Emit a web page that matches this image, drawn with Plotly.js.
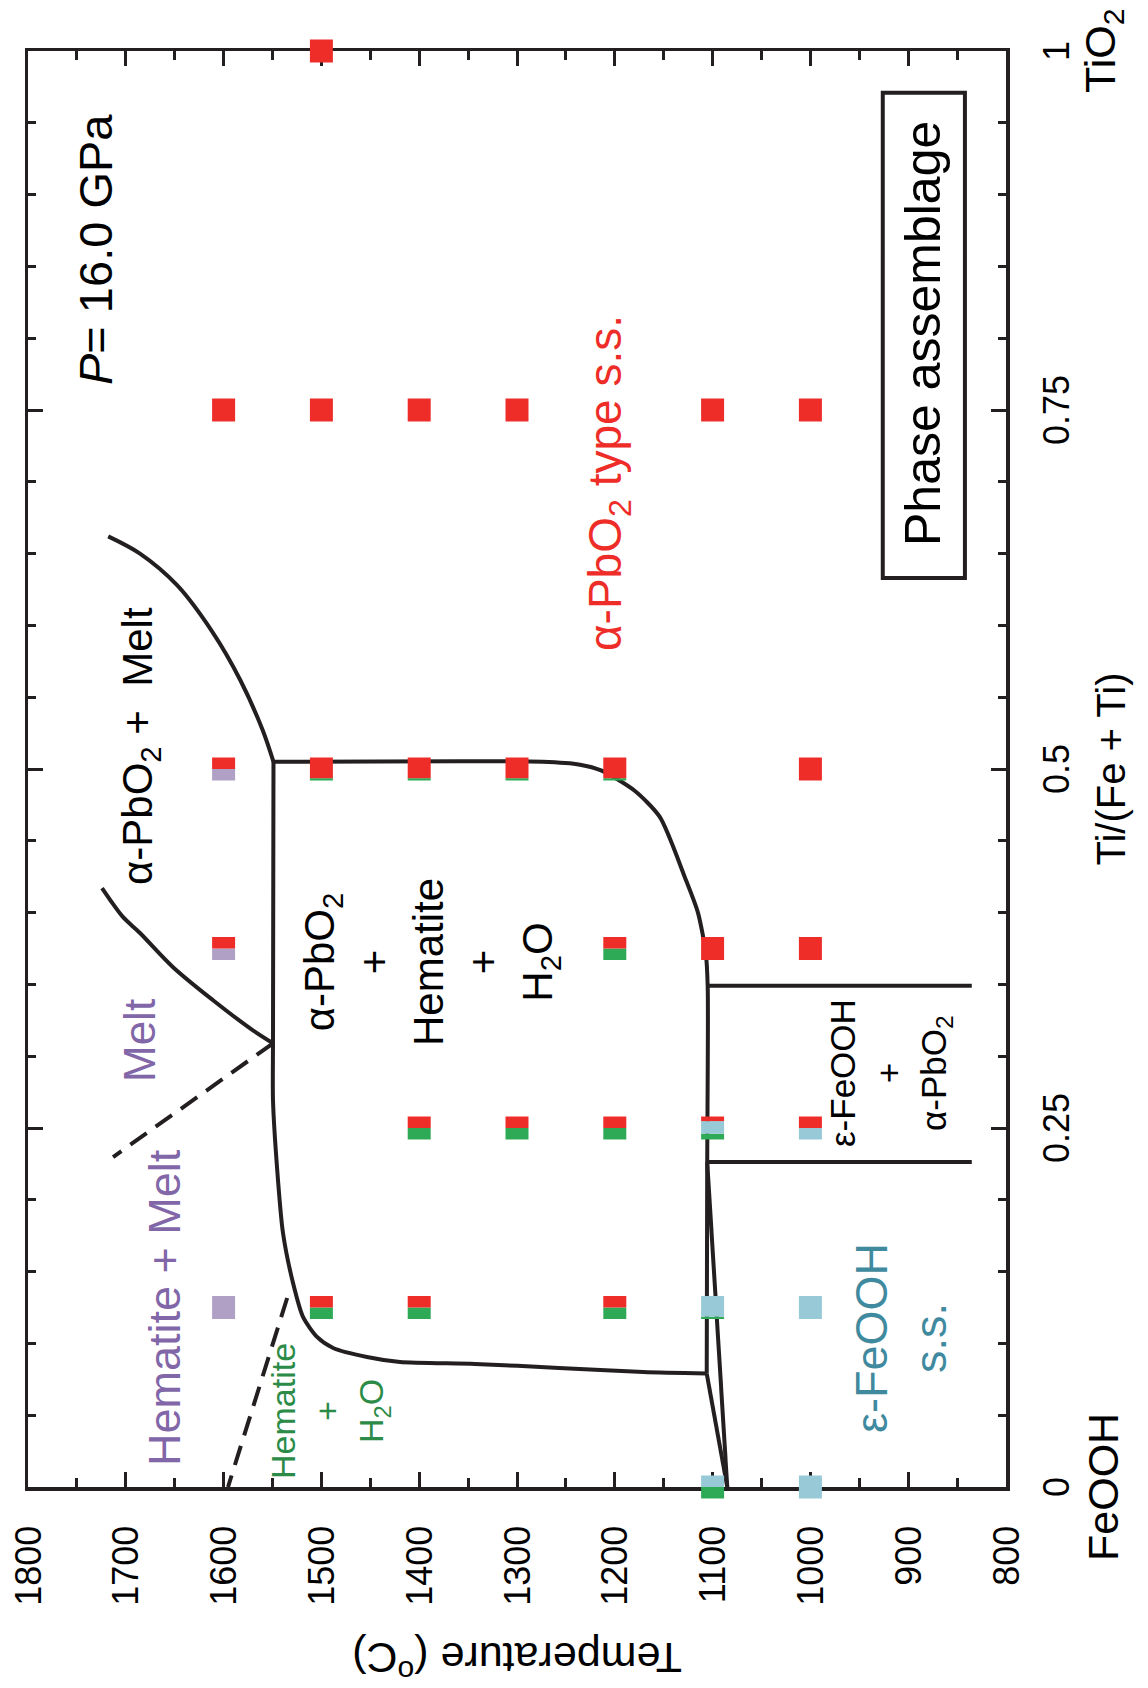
<!DOCTYPE html>
<html><head><meta charset="utf-8">
<script src="https://cdn.plot.ly/plotly-3.0.1.min.js"></script>
<style>
html,body{margin:0;padding:0;width:1148px;height:1688px;overflow:hidden;background:#fff;}
#wrap{position:absolute;left:0;top:0;width:1688px;height:1148px;transform-origin:0 0;transform:translateY(1688px) rotate(-90deg);}
#chart{width:1688px;height:1148px;}
</style></head><body>
<div id="wrap"><div id="chart"></div></div>
<script>
// ---- experimental runs (Ti/(Fe+Ti), temperature) and phase fractions of each symbol ----
const sampleTi   = [1, 0.75,0.75,0.75,0.75,0.75,0.75, 0.5,0.5,0.5,0.5,0.5,0.5, 0.375,0.375,0.375,0.375, 0.25,0.25,0.25,0.25,0.25, 0.125,0.125,0.125,0.125,0.125,0.125, 0,0];
const sampleTemp = [1500, 1600,1500,1400,1300,1100,1000, 1600,1500,1400,1300,1200,1000, 1600,1200,1100,1000, 1400,1300,1200,1100,1000, 1600,1500,1400,1200,1100,1000, 1100,1000];
const fracMelt      = [0, 0,0,0,0,0,0, 0.5,0,0,0,0,0, 0.5,0,0,0, 0,0,0,0,0, 1,0,0,0,0,0, 0,0];
const fracHemH2O    = [0, 0,0,0,0,0,0, 0,0.1,0.1,0.1,0.1,0, 0,0.5,0,0, 0.5,0.5,0.5,0.25,0, 0,0.5,0.5,0.5,0.1,0, 0.5,0];
const fracEpsFeOOH  = [0, 0,0,0,0,0,0, 0,0,0,0,0,0, 0,0,0,0, 0,0,0,0.55,0.5, 0,0,0,0,0.9,1, 0.5,1];
const fracAlphaPbO2 = [1, 1,1,1,1,1,1, 0.5,0.9,0.9,0.9,0.9,1, 0.5,0.5,1,1, 0.5,0.5,0.5,0.2,0.5, 0,0.5,0.5,0.5,0,0, 0,0];

// ---- phase boundaries ----
const liquidusAlphaTi = [0.662,0.650,0.628,0.595,0.562,0.527,0.505];
const liquidusAlphaT  = [1718,1685.5,1647.6,1611,1583,1560,1549];
const meltCurveTi = [0.417,0.4088,0.397,0.3858,0.362,0.339,0.318,0.309];
const meltCurveT  = [1724.3,1716,1703,1685.5,1651.7,1610.8,1570,1549.5];
const solidusBaseTi = [0,0.079];
const solidusBaseT  = [1085,1106];
const solidusLeftTi = [0.079,0.080,0.0829,0.0857,0.087,0.0905,0.0968,0.1045,0.1184,0.142,0.177,0.2228,0.2695,0.309,0.505];
const solidusLeftT  = [1106,1171,1257,1343,1419.6,1453.4,1488,1504.5,1518.8,1529,1539.3,1545.4,1549.5,1549.5,1549];
const solidusTopTi = [0.505,0.505,0.503,0.499,0.485,0.4666,0.4248,0.4,0.372,0.348,0.2263,0.079];
const solidusTopT  = [1549,1274,1235.6,1214,1180,1154,1128.5,1115,1107,1105,1105.5,1106];
const epsLowerTi = [0.2263,0];
const epsLowerT  = [1105.5,1085];
const epsAlphaUpperTi = [0.349,0.349];
const epsAlphaUpperT  = [1105,835];
const epsAlphaLowerTi = [0.2263,0.2263];
const epsAlphaLowerT  = [1105.5,835];
const dashMeltTi = [0.309,0.2298];
const dashMeltT  = [1549.5,1713];
const dashHemTi = [0.1316,0];
const dashHemT  = [1535,1595.5];

// ---- axes ----
const tiRange = [0,1];
const tempRange = [800,1800];
const tiTickVals = [0,0.25,0.5,0.75,1];
const tiTickText = ['0','0.25','0.5','0.75','1'];
const tempTickVals = [800,900,1000,1100,1200,1300,1400,1500,1600,1700,1800];

const FONT = 'Liberation Sans, Arial, Helvetica, sans-serif';
const INK = '#231f20';
const COL = {melt:'#b0a0c6', hem:'#2eaa56', eps:'#97c9d6', alpha:'#ee2d29'};
const TXT = {melt:'#8267a8', hem:'#2b8b47', eps:'#3f8a9e', alpha:'#ee2d29'};
const SQ = 23;

const phases = [
  {name:'Melt', frac:fracMelt, color:COL.melt},
  {name:'Hematite + H2O', frac:fracHemH2O, color:COL.hem},
  {name:'ε-FeOOH', frac:fracEpsFeOOH, color:COL.eps},
  {name:'α-PbO2', frac:fracAlphaPbO2, color:COL.alpha}
];

const traces = [];
function bline(xs, ys, dash, smooth){
  traces.push({type:'scatter', mode:'lines', x:xs, y:ys, hoverinfo:'skip', showlegend:false,
    line:{color:INK, width:4, dash: dash||'solid', shape: smooth ? 'spline' : 'linear', smoothing: smooth||0}});
}
bline(liquidusAlphaTi, liquidusAlphaT, null, 0.9);
bline(meltCurveTi, meltCurveT, null, 0.9);
bline(solidusBaseTi, solidusBaseT);
bline(solidusLeftTi, solidusLeftT, null, 0.7);
bline(solidusTopTi, solidusTopT, null, 0.7);
bline(epsLowerTi, epsLowerT);
bline(epsAlphaUpperTi, epsAlphaUpperT);
bline(epsAlphaLowerTi, epsAlphaLowerT);
bline(dashMeltTi, dashMeltT, '20px,11px');
bline(dashHemTi, dashHemT, '20px,11px');

// single-phase runs as square markers
phases.forEach(p=>{
  const xs=[], ys=[];
  for(let i=0;i<sampleTi.length;i++){ if(p.frac[i]===1){ xs.push(sampleTi[i]); ys.push(sampleTemp[i]); } }
  traces.push({type:'scatter', mode:'markers', x:xs, y:ys, name:p.name, showlegend:false, cliponaxis:false,
    marker:{symbol:'square', size:SQ, color:p.color, line:{width:0}}});
});

// multi-phase runs as split squares (anchored on the axes, sized in pixels)
const shapes = [];
for(let i=0;i<sampleTi.length;i++){
  if(phases.some(p=>p.frac[i]===1)) continue;
  let cum = 0;
  const xd = (sampleTi[i]-tiRange[0])/(tiRange[1]-tiRange[0]);
  phases.forEach(p=>{
    const f = p.frac[i];
    if(f<=0) return;
    shapes.push({type:'rect', layer:'above', xref:'x domain', yref:'y', xsizemode:'pixel', ysizemode:'pixel',
      xanchor:xd, yanchor:sampleTemp[i], x0:-SQ/2+SQ*cum, x1:-SQ/2+SQ*(cum+f), y0:-SQ/2, y1:SQ/2,
      fillcolor:p.color, line:{width:0}});
    cum += f;
  });
}
// "Phase assemblage" frame
shapes.push({type:'rect', xref:'x', yref:'y', x0:0.633, x1:0.971, y0:842, y1:926, line:{color:INK, width:4}, fillcolor:'rgba(0,0,0,0)'});

function ann(x,y,text,size,color,extra){
  return Object.assign({x:x, y:y, xref:'x', yref:'y', text:text, showarrow:false,
    font:{family:FONT, size:size, color:color||'#000'}, xanchor:'center', yanchor:'middle', align:'center'}, extra||{});
}
const annotations = [
  ann(0.862,1730.5,'<i>P</i>= 16.0 GPa',47),
  ann(0.803,884.4,'Phase assemblage',50),
  ann(0.5157,1685,'α-PbO<sub>2</sub> +\u00a0 Melt',42),
  ann(0.311,1686.5,'Melt',44,TXT.melt),
  ann(0.125,1660,'Hematite + Melt',45,TXT.melt),
  ann(0.0529,1491,'Hematite<br>+<br>H<sub>2</sub>O',34,TXT.hem),
  ann(0.3656,1387,'α-PbO<sub>2</sub><br>+<br>Hematite<br>+<br>H<sub>2</sub>O',42),
  ann(0.2883,918.6,'ε-FeOOH<br>+<br>α-PbO<sub>2</sub>',35),
  ann(0.1038,907,'ε-FeOOH<br>s.s.',45,TXT.eps),
  ann(0.6995,1206,'α-PbO<sub>2</sub> type s.s.',46,TXT.alpha),
  ann(0,0,'FeOOH',43,'#000',{yref:'paper', yshift:-97}),
  ann(1,0,'TiO<sub>2</sub>',43,'#000',{yref:'paper', yshift:-97})
];

const axCommon = {showline:true, linecolor:INK, linewidth:3.5, mirror:'allticks', ticks:'inside',
  tickcolor:INK, tickwidth:3, ticklen:15, showgrid:false, zeroline:false, automargin:false,
  layer:'below traces', tickfont:{family:FONT, size:36, color:'#000'}};

const layout = {
  width:1688, height:1148,
  margin:{l:201, r:51, t:28, b:142},
  paper_bgcolor:'#fff', plot_bgcolor:'#fff',
  font:{family:FONT, color:'#000'},
  showlegend:false,
  xaxis:Object.assign({}, axCommon, {range:tiRange, tickvals:tiTickVals, ticktext:tiTickText,
    ticklabelstandoff:16,
    minor:{dtick:0.05, ticks:'inside', ticklen:8, tickwidth:3, tickcolor:INK},
    title:{text:'Ti/(Fe + Ti)', font:{family:FONT, size:40, color:'#000'}, standoff:22}}),
  yaxis:Object.assign({}, axCommon, {range:tempRange, tickvals:tempTickVals,
    ticklabelstandoff:28,
    minor:{dtick:50, ticks:'inside', ticklen:9, tickwidth:3, tickcolor:INK},
    title:{text:'Temperature (<sup>o</sup>C)', font:{family:FONT, size:43, color:'#000'}, standoff:32}}),
  shapes:shapes,
  annotations:annotations
};

Plotly.newPlot('chart', traces, layout, {staticPlot:true, displayModeBar:false});
</script>
</body></html>
